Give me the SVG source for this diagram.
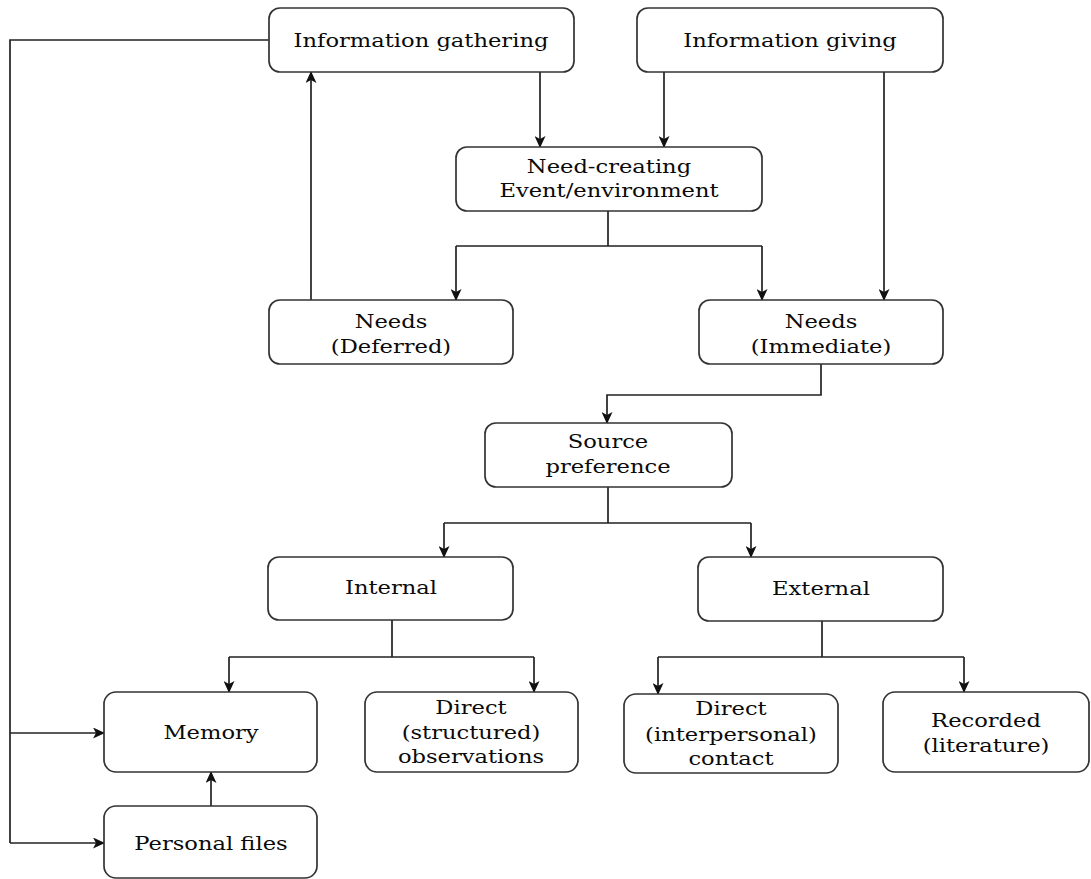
<svg xmlns="http://www.w3.org/2000/svg" width="1091" height="879" viewBox="0 0 1091 879">
  <style>
    .box { fill: #ffffff; stroke: #333333; stroke-width: 1.7; }
    .t { font-family: "DejaVu Serif", "Liberation Serif", serif; font-size: 19px; fill: #0a0a0a; text-anchor: middle; }
    .ln { fill: none; stroke: #222222; stroke-width: 1.7; }
    .arr { fill: none; stroke: #222222; stroke-width: 1.7; marker-end: url(#ah); }
  </style>
  <defs>
    <marker id="ah" viewBox="0 0 12 11" refX="11" refY="5.5" markerWidth="12" markerHeight="11" markerUnits="userSpaceOnUse" orient="auto">
      <path d="M0,0 L12,5.5 L0,11 L3,5.5 z" fill="#111111"/>
    </marker>
  </defs>
  <rect width="1091" height="879" fill="#ffffff"/>

  <!-- connectors -->
  <g id="connectors">
    <path class="ln" d="M269,40 H10 V843"/>
    <path class="arr" d="M10,843 H104"/>
    <path class="arr" d="M10,733 H104"/>
    <path class="arr" d="M540,72 V147"/>
    <path class="arr" d="M664,72 V147"/>
    <path class="arr" d="M884,72 V300"/>
    <path class="arr" d="M311,300 V72"/>
    <path class="ln" d="M608,211 V246 M456,246 H762"/>
    <path class="arr" d="M456,246 V300"/>
    <path class="arr" d="M762,246 V300"/>
    <path class="arr" d="M821,364 V395 H607 V423"/>
    <path class="ln" d="M608,487 V523 M444,523 H751"/>
    <path class="arr" d="M444,523 V557"/>
    <path class="arr" d="M751,523 V557"/>
    <path class="ln" d="M392,620 V657 M229,657 H534"/>
    <path class="arr" d="M229,657 V692"/>
    <path class="arr" d="M534,657 V692"/>
    <path class="ln" d="M822,621 V657 M658,657 H964"/>
    <path class="arr" d="M658,657 V694"/>
    <path class="arr" d="M964,657 V692"/>
    <path class="arr" d="M211,806 V772"/>
  </g>

  <g id="info-gathering">
    <rect class="box" x="269" y="8" width="305" height="64" rx="11"/>
    <text class="t" transform="translate(421,0) scale(1.19,1)"><tspan x="0" y="47">Information gathering</tspan></text>
  </g>
  <g id="info-giving">
    <rect class="box" x="637" y="8" width="306" height="64" rx="11"/>
    <text class="t" transform="translate(790,0) scale(1.19,1)"><tspan x="0" y="47">Information giving</tspan></text>
  </g>
  <g id="need-creating">
    <rect class="box" x="456" y="147" width="306" height="64" rx="11"/>
    <text class="t" transform="translate(609,0) scale(1.19,1)"><tspan x="0" y="173">Need-creating</tspan><tspan x="0" y="197">Event/environment</tspan></text>
  </g>
  <g id="needs-deferred">
    <rect class="box" x="269" y="300" width="244" height="64" rx="11"/>
    <text class="t" transform="translate(391,0) scale(1.19,1)"><tspan x="0" y="328">Needs</tspan><tspan x="0" y="353">(Deferred)</tspan></text>
  </g>
  <g id="needs-immediate">
    <rect class="box" x="699" y="300" width="244" height="64" rx="11"/>
    <text class="t" transform="translate(821,0) scale(1.19,1)"><tspan x="0" y="328">Needs</tspan><tspan x="0" y="353">(Immediate)</tspan></text>
  </g>
  <g id="source-preference">
    <rect class="box" x="485" y="423" width="247" height="64" rx="11"/>
    <text class="t" transform="translate(608,0) scale(1.19,1)"><tspan x="0" y="448">Source</tspan><tspan x="0" y="473">preference</tspan></text>
  </g>
  <g id="internal">
    <rect class="box" x="268" y="557" width="245" height="63" rx="11"/>
    <text class="t" transform="translate(391,0) scale(1.19,1)"><tspan x="0" y="594">Internal</tspan></text>
  </g>
  <g id="external">
    <rect class="box" x="698" y="557" width="245" height="64" rx="11"/>
    <text class="t" transform="translate(821,0) scale(1.19,1)"><tspan x="0" y="595">External</tspan></text>
  </g>
  <g id="memory">
    <rect class="box" x="104" y="692" width="213" height="80" rx="12"/>
    <text class="t" transform="translate(211,0) scale(1.19,1)"><tspan x="0" y="739">Memory</tspan></text>
  </g>
  <g id="direct-structured">
    <rect class="box" x="365" y="692" width="213" height="80" rx="12"/>
    <text class="t" transform="translate(471,0) scale(1.19,1)"><tspan x="0" y="714">Direct</tspan><tspan x="0" y="739">(structured)</tspan><tspan x="0" y="763">observations</tspan></text>
  </g>
  <g id="direct-interpersonal">
    <rect class="box" x="624" y="694" width="214" height="79" rx="12"/>
    <text class="t" transform="translate(731,0) scale(1.19,1)"><tspan x="0" y="715">Direct</tspan><tspan x="0" y="741">(interpersonal)</tspan><tspan x="0" y="765">contact</tspan></text>
  </g>
  <g id="recorded">
    <rect class="box" x="883" y="692" width="206" height="80" rx="12"/>
    <text class="t" transform="translate(986,0) scale(1.19,1)"><tspan x="0" y="727">Recorded</tspan><tspan x="0" y="752">(literature)</tspan></text>
  </g>
  <g id="personal-files">
    <rect class="box" x="104" y="806" width="213" height="72" rx="12"/>
    <text class="t" transform="translate(211,0) scale(1.19,1)"><tspan x="0" y="850">Personal files</tspan></text>
  </g>
</svg>
